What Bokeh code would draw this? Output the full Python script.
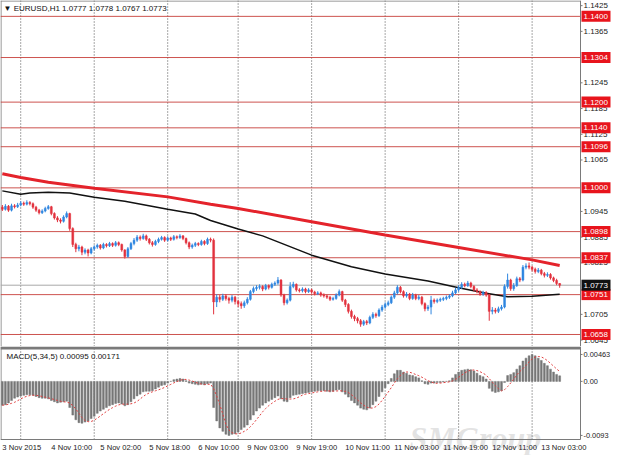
import pandas as pd
from bokeh.plotting import figure
from bokeh.layouts import column
from bokeh.models import Range1d, Label, ColumnDataSource
from bokeh.core.properties import value
from bokeh.embed import file_html
from bokeh.resources import INLINE

# ---------------- data ----------------
symbol = "EURUSD,H1"
first_open = 1.0955
close = [
    1.0950, 1.0957, 1.0948, 1.0958, 1.0956, 1.0960, 1.0964, 1.0962, 1.0966, 1.0963,
    1.0955, 1.0948, 1.0942, 1.0946, 1.0952, 1.0956, 1.0940, 1.0930, 1.0925, 1.0922,
    1.0932, 1.0940, 1.0905, 1.0868, 1.0858, 1.0862, 1.0850, 1.0855, 1.0848, 1.0858,
    1.0862, 1.0866, 1.0860, 1.0868, 1.0865, 1.0870, 1.0866, 1.0872, 1.0868, 1.0855,
    1.0840, 1.0858, 1.0870, 1.0878, 1.0885, 1.0882, 1.0888, 1.0880, 1.0872, 1.0868,
    1.0875, 1.0880, 1.0884, 1.0878, 1.0883, 1.0880, 1.0886, 1.0884, 1.0888, 1.0882,
    1.0872, 1.0862, 1.0866, 1.0870, 1.0868, 1.0875, 1.0870, 1.0880, 1.0878, 1.0734,
    1.0745, 1.0740, 1.0748, 1.0742, 1.0738, 1.0745, 1.0735, 1.0730, 1.0725, 1.0732,
    1.0740, 1.0758, 1.0765, 1.0768, 1.0770, 1.0764, 1.0772, 1.0768, 1.0775, 1.0778,
    1.0785, 1.0750, 1.0732, 1.0738, 1.0770, 1.0775, 1.0762, 1.0760, 1.0764, 1.0758,
    1.0762, 1.0757, 1.0753, 1.0755, 1.0750, 1.0748, 1.0745, 1.0740, 1.0742, 1.0750,
    1.0758, 1.0738, 1.0728, 1.0712, 1.0700, 1.0695, 1.0690, 1.0682, 1.0688, 1.0685,
    1.0698, 1.0705, 1.0702, 1.0715, 1.0722, 1.0728, 1.0732, 1.0745, 1.0755, 1.0768,
    1.0758, 1.0748, 1.0752, 1.0742, 1.0750, 1.0742, 1.0745, 1.0730, 1.0718, 1.0722,
    1.0738, 1.0735, 1.0738, 1.0740, 1.0742, 1.0745, 1.0748, 1.0755, 1.0762, 1.0768,
    1.0775, 1.0772, 1.0778, 1.0770, 1.0762, 1.0758, 1.0752, 1.0756, 1.0750, 1.0712,
    1.0715, 1.0712, 1.0718, 1.0722, 1.0770, 1.0785, 1.0765, 1.0772, 1.0788, 1.0785,
    1.0815, 1.0818, 1.0815, 1.0810, 1.0805, 1.0808, 1.0800, 1.0796, 1.0798, 1.0790,
    1.0784, 1.0777, 1.0773,
]
high = [
    1.0960, 1.0962, 1.0960, 1.0963, 1.0962, 1.0965, 1.0969, 1.0968, 1.0971, 1.0969,
    1.0966, 1.0958, 1.0951, 1.0950, 1.0956, 1.0960, 1.0958, 1.0943, 1.0934, 1.0929,
    1.0936, 1.0945, 1.0942, 1.0908, 1.0872, 1.0867, 1.0865, 1.0859, 1.0858, 1.0862,
    1.0866, 1.0870, 1.0869, 1.0872, 1.0871, 1.0874, 1.0873, 1.0876, 1.0875, 1.0870,
    1.0857, 1.0862, 1.0874, 1.0883, 1.0890, 1.0889, 1.0893, 1.0891, 1.0883, 1.0876,
    1.0879, 1.0884, 1.0888, 1.0887, 1.0887, 1.0886, 1.0890, 1.0889, 1.0892, 1.0890,
    1.0884, 1.0875, 1.0870, 1.0874, 1.0873, 1.0879, 1.0878, 1.0884, 1.0884, 1.0882,
    1.0752, 1.0750, 1.0753, 1.0752, 1.0746, 1.0750, 1.0748, 1.0739, 1.0735, 1.0737,
    1.0745, 1.0762, 1.0770, 1.0773, 1.0775, 1.0773, 1.0776, 1.0775, 1.0779, 1.0782,
    1.0792, 1.0787, 1.0753, 1.0742, 1.0780, 1.0781, 1.0777, 1.0766, 1.0768, 1.0767,
    1.0766, 1.0765, 1.0760, 1.0759, 1.0758, 1.0754, 1.0751, 1.0748, 1.0746, 1.0754,
    1.0763, 1.0760, 1.0741, 1.0731, 1.0716, 1.0704, 1.0699, 1.0694, 1.0692, 1.0692,
    1.0702, 1.0710, 1.0709, 1.0719, 1.0727, 1.0733, 1.0737, 1.0749, 1.0760, 1.0773,
    1.0771, 1.0761, 1.0757, 1.0755, 1.0755, 1.0753, 1.0750, 1.0748, 1.0733, 1.0727,
    1.0748, 1.0742, 1.0742, 1.0744, 1.0746, 1.0749, 1.0752, 1.0760, 1.0767, 1.0773,
    1.0780, 1.0779, 1.0783, 1.0781, 1.0773, 1.0766, 1.0761, 1.0760, 1.0759, 1.0753,
    1.0722, 1.0720, 1.0723, 1.0727, 1.0775, 1.0800, 1.0788, 1.0778, 1.0793, 1.0792,
    1.0820, 1.0824, 1.0826, 1.0818, 1.0814, 1.0813, 1.0811, 1.0804, 1.0803, 1.0801,
    1.0793, 1.0788, 1.0778,
]
low = [
    1.0946, 1.0947, 1.0944, 1.0945, 1.0952, 1.0953, 1.0957, 1.0958, 1.0959, 1.0959,
    1.0951, 1.0944, 1.0938, 1.0939, 1.0943, 1.0949, 1.0936, 1.0926, 1.0920, 1.0917,
    1.0919, 1.0929, 1.0900, 1.0862, 1.0850, 1.0852, 1.0843, 1.0845, 1.0840, 1.0845,
    1.0854, 1.0858, 1.0856, 1.0857, 1.0861, 1.0862, 1.0862, 1.0863, 1.0864, 1.0851,
    1.0835, 1.0837, 1.0855, 1.0866, 1.0874, 1.0877, 1.0879, 1.0876, 1.0868, 1.0863,
    1.0865, 1.0871, 1.0877, 1.0874, 1.0875, 1.0876, 1.0877, 1.0880, 1.0881, 1.0878,
    1.0868, 1.0857, 1.0858, 1.0862, 1.0864, 1.0865, 1.0866, 1.0867, 1.0873, 1.0705,
    1.0722, 1.0733, 1.0736, 1.0737, 1.0730, 1.0733, 1.0728, 1.0722, 1.0718, 1.0720,
    1.0728, 1.0737, 1.0754, 1.0760, 1.0763, 1.0759, 1.0761, 1.0763, 1.0765, 1.0771,
    1.0774, 1.0746, 1.0726, 1.0728, 1.0735, 1.0766, 1.0758, 1.0756, 1.0756, 1.0754,
    1.0755, 1.0753, 1.0749, 1.0750, 1.0746, 1.0744, 1.0741, 1.0736, 1.0737, 1.0739,
    1.0747, 1.0734, 1.0722, 1.0707, 1.0695, 1.0689, 1.0684, 1.0676, 1.0678, 1.0680,
    1.0682, 1.0694, 1.0697, 1.0699, 1.0711, 1.0718, 1.0724, 1.0729, 1.0741, 1.0751,
    1.0754, 1.0744, 1.0744, 1.0738, 1.0739, 1.0738, 1.0738, 1.0726, 1.0712, 1.0713,
    1.0705, 1.0730, 1.0731, 1.0734, 1.0736, 1.0738, 1.0741, 1.0745, 1.0752, 1.0758,
    1.0764, 1.0768, 1.0769, 1.0766, 1.0758, 1.0754, 1.0748, 1.0748, 1.0746, 1.0690,
    1.0705, 1.0707, 1.0708, 1.0714, 1.0719, 1.0765, 1.0760, 1.0760, 1.0769, 1.0780,
    1.0782, 1.0810, 1.0810, 1.0805, 1.0800, 1.0801, 1.0796, 1.0791, 1.0792, 1.0786,
    1.0780, 1.0773, 1.0767,
]
open_ = [first_open] + close[:-1]

# moving averages (read at selected bars)
red_ma_bars = [0, 6, 15, 30, 54, 68, 77, 101, 125, 149, 173, 182]
red_ma_vals = [1.1033, 1.1024, 1.1013, 1.0999, 1.0979, 1.0962, 1.0952, 1.0921,
               1.0890, 1.0861, 1.0832, 1.0819]
black_ma_bars = [0, 6, 9, 15, 22, 30, 40, 54, 63, 68, 77, 85, 101, 114, 125,
                 139, 149, 158, 165, 173, 182]
black_ma_vals = [1.0993, 1.0985, 1.0988, 1.0990, 1.0988, 1.0978, 1.0969, 1.0950,
                 1.0939, 1.0924, 1.0904, 1.0888, 1.0843, 1.0816, 1.0799, 1.0783,
                 1.0767, 1.0754, 1.0746, 1.0747, 1.0752]

levels = [1.1400, 1.1304, 1.1200, 1.1140, 1.1096, 1.1000, 1.0898, 1.0837, 1.0751, 1.0658]
price_ticks = [1.1425, 1.1365, 1.1245, 1.1185, 1.1125, 1.1065, 1.0945, 1.0885,
               1.0825, 1.0705, 1.0645]

macd_hist = [
    -0.0041, -0.0040, -0.0037, -0.0033, -0.0029, -0.0027, -0.0025, -0.0024, -0.0023, -0.0023,
    -0.0024, -0.0026, -0.0028, -0.0029, -0.0029, -0.0030, -0.0033, -0.0035, -0.0037, -0.0036,
    -0.0035, -0.0034, -0.0045, -0.0058, -0.0066, -0.0071, -0.0072, -0.0070, -0.0068, -0.0064,
    -0.0060, -0.0055, -0.0051, -0.0048, -0.0045, -0.0042, -0.0040, -0.0038, -0.0037, -0.0039,
    -0.0042, -0.0040, -0.0035, -0.0030, -0.0025, -0.0022, -0.0018, -0.0017, -0.0017, -0.0016,
    -0.0013, -0.0010, -0.0007, -0.0006, -0.0003, 0.0000, 0.0003, 0.0004, 0.0005, 0.0004,
    0.0001, -0.0003, -0.0004, -0.0005, -0.0006, -0.0005, -0.0006, -0.0004, -0.0003, -0.0045,
    -0.0068, -0.0080, -0.0086, -0.0091, -0.0093, -0.0091, -0.0090, -0.0087, -0.0083, -0.0079,
    -0.0075, -0.0066, -0.0058, -0.0051, -0.0046, -0.0041, -0.0037, -0.0034, -0.0031, -0.0028,
    -0.0025, -0.0030, -0.0034, -0.0035, -0.0028, -0.0024, -0.0023, -0.0022, -0.0021, -0.0020,
    -0.0019, -0.0018, -0.0017, -0.0016, -0.0016, -0.0016, -0.0017, -0.0018, -0.0017, -0.0015,
    -0.0014, -0.0018, -0.0022, -0.0027, -0.0033, -0.0037, -0.0041, -0.0046, -0.0048, -0.0049,
    -0.0046, -0.0040, -0.0034, -0.0026, -0.0018, -0.0011, -0.0004, 0.0005, 0.0013, 0.0019,
    0.0019, 0.0016, 0.0014, 0.0011, 0.0010, 0.0008, 0.0006, 0.0001, -0.0004, -0.0005,
    -0.0003, -0.0003, -0.0002, -0.0002, -0.0001, 0.0000, 0.0001, 0.0006, 0.0012, 0.0016,
    0.0019, 0.0020, 0.0021, 0.0020, 0.0018, 0.0014, 0.0010, 0.0008, 0.0004, -0.0012,
    -0.0017, -0.0019, -0.0018, -0.0016, -0.0002, 0.0010, 0.0012, 0.0015, 0.0021, 0.0027,
    0.0035, 0.0040, 0.0044, 0.00463, 0.0044, 0.0040, 0.0036, 0.0031, 0.0027, 0.0021,
    0.0016, 0.0012, 0.00095,
]
macd_ticks = [0.00463, 0.0, -0.0093]
macd_tick_labels = ["0.00463", "0.00", "-0.0093"]

grid_bars = [6, 30, 54, 77, 101, 125, 149, 173]
label_bars = [0, 16, 32, 48, 64, 80, 96, 112, 128, 144, 160, 176]
label_texts = ["3 Nov 2015", "4 Nov 10:00", "5 Nov 02:00", "5 Nov 18:00", "6 Nov 10:00",
               "9 Nov 03:00", "9 Nov 19:00", "10 Nov 11:00", "11 Nov 03:00",
               "11 Nov 19:00", "12 Nov 11:00", "13 Nov 03:00"]
watermark = "SMGroup"

# signal line = 5-period SMA of MACD main
macd_signal = pd.Series(macd_hist).rolling(5, min_periods=1).mean().tolist()

# ---------------- layout constants ----------------
FONT = "Liberation Sans"
FS = "8px"
BULL = "#2f86e0"
BEAR = "#e2323e"
LEVEL = "#c8403c"
GRID = "#505050"
BORDER = "#7a7a7a"
W = 611
CHART_PX = 580                      # width of the candle area in px
X0, X1 = -0.6, 188.8                # candle area in bar units
PXB = CHART_PX / (X1 - X0)          # px per bar
XR = X0 + W / PXB                   # right end incl. price scale
MAIN_H = 346
MACD_H = 109
Y0, Y1 = 1.0630, 1.1437
M0, M1 = -0.0100, 0.0060            # MACD data window
MACD_DATA_PX = 93                   # height of the MACD data window in px
mpx = MACD_DATA_PX / (M1 - M0)
MB = M1 - MACD_H / mpx              # bottom of the MACD figure incl. time labels

n = len(close)
idx = list(range(n))
colors = [BULL if c >= o else BEAR for o, c in zip(open_, close)]
src = ColumnDataSource(dict(x=idx, open=open_, close=close, high=high, low=low, color=colors))


def base_fig(height, yr):
    f = figure(width=W, height=height, x_range=Range1d(X0, XR), y_range=Range1d(*yr),
               x_axis_location=None, y_axis_location=None, output_backend="svg",
               toolbar_location=None, min_border_left=0, min_border_right=0,
               min_border_top=0, min_border_bottom=0)
    f.background_fill_color = "white"
    f.border_fill_color = "white"
    f.outline_line_color = None
    f.xgrid.visible = False
    f.ygrid.visible = False
    return f


def day_grid(f, ylo, yhi):
    k = len(grid_bars)
    f.segment(x0=grid_bars, y0=[ylo] * k, x1=grid_bars, y1=[yhi] * k,
              line_color=GRID, line_dash="1 2", line_width=1)


def price_scale(f, ticks, labels, ylo, yhi, fs):
    f.segment(x0=[X1], y0=[ylo], x1=[X1], y1=[yhi], line_color=BORDER, line_width=1)
    f.segment(x0=[X1] * len(ticks), y0=ticks, x1=[X1 + 2 / PXB] * len(ticks), y1=ticks,
              line_color=BORDER, line_width=1)
    f.text(x=[X1 + 3 / PXB] * len(ticks), y=ticks, text=labels, text_color="#222222",
           text_font=value(FONT), text_font_size=value(fs), text_baseline="middle")


# ---------------- main price panel ----------------
p = base_fig(MAIN_H, (Y0, Y1))
ypx = MAIN_H / (Y1 - Y0)

day_grid(p, Y0, Y1)
p.segment(x0=[X0 + 0.5 / PXB], y0=[Y0], x1=[X0 + 0.5 / PXB], y1=[Y1], line_color=BORDER)
p.segment(x0=[X0], y0=[Y1 - 0.5 / ypx], x1=[X1], y1=[Y1 - 0.5 / ypx], line_color=BORDER)

p.segment(x0=[X0] * len(levels), y0=levels, x1=[X1] * len(levels), y1=levels,
          line_color=LEVEL, line_width=1, line_alpha=0.9)
p.segment(x0=[X0], y0=[close[-1]], x1=[X1], y1=[close[-1]], line_color="#a8a8a8", line_width=1)

p.line(red_ma_bars, red_ma_vals, line_color="#e4232b", line_width=3)
p.line(black_ma_bars, black_ma_vals, line_color="#111111", line_width=1.5)

p.segment(x0="x", y0="low", x1="x", y1="high", line_color="color", line_width=1, source=src)
p.vbar(x="x", width=0.62, top="open", bottom="close", fill_color="color",
       line_color="color", line_width=0.5, source=src)

price_scale(p, price_ticks, [f"{t:.4f}" for t in price_ticks], Y0, Y1, FS)

box_w = W - CHART_PX - 2
box_x = X1 + (1 + box_w / 2) / PXB
p.rect(x=[box_x] * len(levels), y=levels, width=box_w, height=11, width_units="screen",
       height_units="screen", fill_color="#e8141c", line_color=None)
p.text(x=[X1 + 3 / PXB] * len(levels), y=levels, text=[f"{lv:.4f}" for lv in levels],
       text_color="white", text_font=value(FONT), text_font_size=value(FS),
       text_baseline="middle")
p.rect(x=[box_x], y=[close[-1]], width=box_w, height=11, width_units="screen",
       height_units="screen", fill_color="#111111", line_color=None)
p.text(x=[X1 + 3 / PXB], y=[close[-1]], text=[f"{close[-1]:.4f}"], text_color="white",
       text_font=value(FONT), text_font_size=value(FS), text_baseline="middle")

title = "\u25bc {}  {:.4f} {:.4f} {:.4f} {:.4f}".format(symbol, open_[-1], high[-1], low[-1], close[-1])
p.add_layout(Label(x=X0, y=Y1, x_offset=3, y_offset=-3, text=title, text_color="#111111",
                   text_font=FONT, text_font_size=FS, text_baseline="top", level="overlay"))

# ---------------- MACD panel ----------------
m = base_fig(MACD_H, (MB, M1))

# watermark (behind everything)
m.text(x=[133], y=[M1 - 91 / mpx], text=[watermark], text_color="#d0d0d0", text_alpha=0.6,
       text_font=value("Liberation Serif"), text_font_size=value("32px"),
       text_font_style="bold italic", text_baseline="alphabetic")

day_grid(m, M0, M1)
m.segment(x0=[X0], y0=[M1 - 1.5 / mpx], x1=[X1], y1=[M1 - 1.5 / mpx], line_color=BORDER,
          line_width=3)
m.segment(x0=[X0 + 0.5 / PXB], y0=[M0], x1=[X0 + 0.5 / PXB], y1=[M1], line_color=BORDER)
m.segment(x0=[X0], y0=[M0], x1=[X1], y1=[M0], line_color=BORDER)

m.vbar(x=idx, top=macd_hist, bottom=0, width=0.6, fill_color="#777777", line_color="#777777",
       line_width=0.5)
m.line(idx, macd_signal, line_color="#e04040", line_width=1, line_dash="2 2")

price_scale(m, macd_ticks, macd_tick_labels, M0, M1, "7.4px")

# time labels, left-aligned at their bar (MetaTrader style)
m.text(x=label_bars, y=[M0 - 8 / mpx] * len(label_bars), text=label_texts,
       text_color="#222222", text_font=value(FONT), text_font_size=value("7.6px"),
       text_baseline="middle", text_align="left")

macd_title = "MACD(5,34,5) {:.5f} {:.5f}".format(macd_hist[-1], macd_signal[-1])
m.add_layout(Label(x=X0, y=M1, x_offset=6, y_offset=-5, text=macd_title,
                   text_color="#111111", text_font=FONT, text_font_size=FS,
                   text_baseline="top", level="overlay"))

layout = column(p, m, spacing=0)
open("out.html", "w").write(file_html(layout, INLINE))
